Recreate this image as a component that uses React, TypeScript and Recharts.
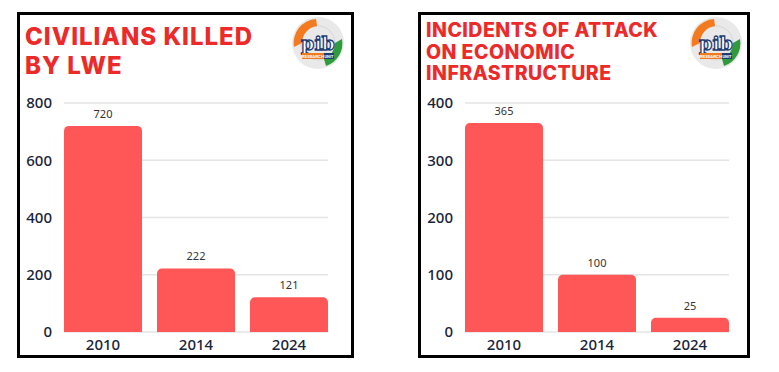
import React from 'react';
import { BarChart, Bar, XAxis, YAxis, CartesianGrid, LabelList } from 'recharts';

const years = ['2010', '2014', '2024'];
const civiliansKilled = [720, 222, 121];
const economicAttacks = [365, 100, 25];
const civTicks = [0, 200, 400, 600, 800];
const ecoTicks = [0, 100, 200, 300, 400];

const BAR = '#ff5757';
const TITLE_RED = '#ec2a2a';
const NAVY = '#17243a';

const Logo = ({ cx, cy }: { cx: number; cy: number }) => (
  <svg width={56} height={56} viewBox="0 0 56 56" style={{ position: 'absolute', left: cx - 28, top: cy - 28 }}>
    <circle cx={28} cy={28} r={26} fill="#e9e9ea" />
    <circle cx={28} cy={28} r={17} fill="none" stroke="#d6d6d8" strokeWidth={1} />
    {/* orange crescent top-left */}
    <path d="M4 32 A24 24 0 0 1 26 4 L27 11 A17 17 0 0 0 12 28 Z" fill="#f37a1f" />
    {/* green crescent bottom-right */}
    <path d="M52 24 A24 24 0 0 1 36 51 L34 44 A17 17 0 0 0 45 28 Z" fill="#2f9b3c" />
    <text x={28} y={35} textAnchor="middle" fontFamily="DejaVu Serif, serif" fontSize={19} fontWeight={700} fill="#ffffff" stroke="#1f3d73" strokeWidth={1.3}>pib</text>
    <rect x={12} y={38} width={22} height={6} fill="#f37a1f" />
    <rect x={34} y={38} width={10} height={6} fill="#1f3d73" />
    <text x={23} y={42.8} textAnchor="middle" fontFamily="Roboto, sans-serif" fontSize={4.4} fontWeight={700} fill="#fff">RESEARCH</text>
    <text x={39} y={42.8} textAnchor="middle" fontFamily="Roboto, sans-serif" fontSize={4} fontWeight={700} fill="#fff">UNIT</text>
  </svg>
);

interface PanelProps {
  left: number;
  width: number;
  titleLines: string[];
  titleSize: number;
  lineHeight: number;
  titleTop: number;
  spacing: number;
  values: number[];
  ticks: number[];
  chartLeft: number;
  chartRight: number;
  logoX: number;
}

const Panel = ({ left, width, titleLines, titleSize, lineHeight, titleTop, spacing, values, ticks, chartLeft, chartRight, logoX }: PanelProps) => {
  const data = years.map((y, i) => ({ year: y, value: values[i] }));
  return (
    <>
      <div style={{ position: 'absolute', left, top: 12, width, height: 346, border: '3px solid #000', boxSizing: 'border-box', background: '#fff' }} />
      <div
        style={{
          position: 'absolute',
          left: left + 8,
          top: titleTop,
          color: TITLE_RED,
          fontFamily: 'Inter, sans-serif',
          fontWeight: 800,
          fontSize: titleSize,
          lineHeight: `${lineHeight}px`,
          letterSpacing: spacing,
        }}
      >
        {titleLines.map((l) => (
          <div key={l}>{l}</div>
        ))}
      </div>
      <Logo cx={logoX} cy={43} />
      <div style={{ position: 'absolute', left: chartLeft, top: 90 }}>
        <BarChart width={chartRight - chartLeft} height={270} data={data} margin={{ top: 13, right: 12, bottom: 0, left: 0 }} barCategoryGap={7.5}>
          <CartesianGrid vertical={false} stroke="#e4e4e4" strokeWidth={1.3} />
          <XAxis
            dataKey="year"
            axisLine={false}
            tickLine={false}
            tickSize={0}
            tickMargin={7}
            height={28}
            padding={{ left: -7.5, right: -7.5 }}
            tick={{ fill: NAVY, fontSize: 15, fontFamily: 'Noto Sans, sans-serif', fontWeight: 500 }}
          />
          <YAxis
            width={44}
            domain={[ticks[0], ticks[ticks.length - 1]]}
            ticks={ticks}
            axisLine={false}
            tickLine={false}
            tickSize={0}
            tickMargin={12}
            tick={{ fill: NAVY, fontSize: 15, fontFamily: 'Noto Sans, sans-serif', fontWeight: 500 }}
          />
          <Bar dataKey="value" fill={BAR} radius={[5, 5, 0, 0]} isAnimationActive={false}>
            <LabelList dataKey="value" position="top" offset={8} fill="#333" fontSize={11} fontFamily="Noto Sans, sans-serif" />
          </Bar>
        </BarChart>
      </div>
    </>
  );
};

export default function App() {
  return (
    <div style={{ position: 'absolute', left: 0, top: 0, width: 779, height: 372, background: '#fff', overflow: 'hidden' }}>
      <Panel
        left={17}
        width={337}
        titleLines={['CIVILIANS KILLED', 'BY LWE']}
        titleSize={24}
        lineHeight={29}
        titleTop={22}
        spacing={1}
        values={civiliansKilled}
        ticks={civTicks}
        chartLeft={20}
        chartRight={340}
        logoX={318}
      />
      <Panel
        left={418}
        width={332}
        titleLines={['INCIDENTS OF ATTACK', 'ON ECONOMIC', 'INFRASTRUCTURE']}
        titleSize={19.5}
        lineHeight={21.5}
        titleTop={20}
        spacing={0.45}
        values={economicAttacks}
        ticks={ecoTicks}
        chartLeft={421}
        chartRight={741}
        logoX={716}
      />
    </div>
  );
}
